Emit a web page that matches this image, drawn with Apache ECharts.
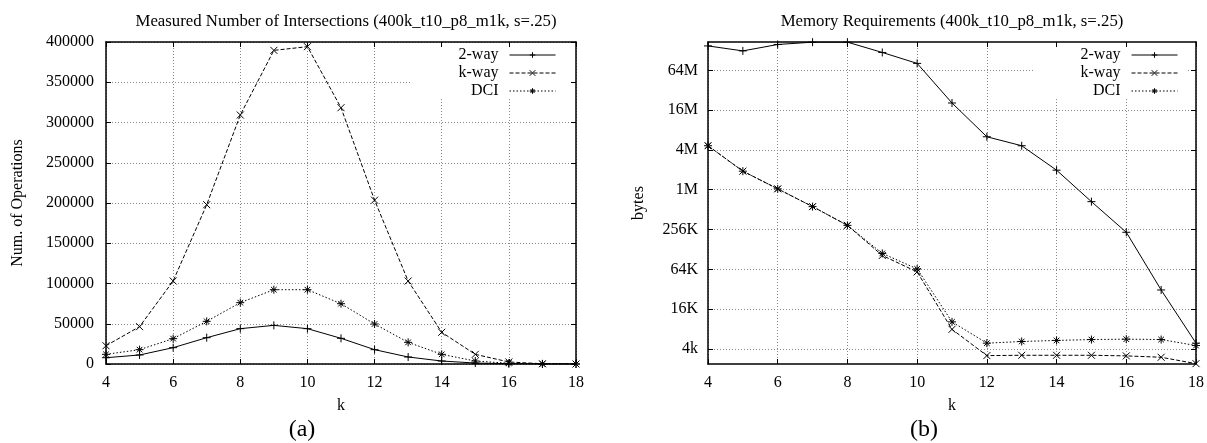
<!DOCTYPE html>
<html>
<head>
<meta charset="utf-8">
<script src="https://cdn.jsdelivr.net/npm/echarts@6/dist/echarts.min.js"></script>
<style>
html,body{margin:0;padding:0;background:#fff;}
#chart{width:1207px;height:443px;}
</style>
</head>
<body>
<div id="chart"></div>
<script>
// ---- data ----
var kValues = [4, 5, 6, 7, 8, 9, 10, 11, 12, 13, 14, 15, 16, 17, 18];
var seriesNames = ['2-way', 'k-way', 'DCI'];

// (a) Measured number of intersections
var twoWayOps = [7800, 11200, 20300, 32700, 43900, 48000, 43900, 31900, 17800, 8700, 3700, 1200, 400, 100, 0];
var kWayOps   = [22700, 46400, 103100, 197900, 309300, 389600, 394200, 318400, 203500, 103100, 39400, 12000, 2500, 300, 0];
var dciOps    = [12000, 17800, 31500, 53000, 76200, 92300, 92300, 74900, 49700, 26900, 12000, 3700, 900, 100, 0];

// (b) Memory requirements (bytes)
var twoWayMem = [157e6, 132e6, 165e6, 179e6, 179e6, 125e6, 85.4e6, 21.5e6, 6.63e6, 4.85e6, 2.07e6, 692e3, 238e3, 31.9e3, 5.0e3];
var kWayMem   = [4.85e6, 2.0e6, 1.08e6, 582e3, 303e3, 106e3, 59.9e3, 8.1e3, 3.24e3, 3.28e3, 3.28e3, 3.28e3, 3.21e3, 3.06e3, 2.45e3];
var dciMem    = [4.85e6, 2.0e6, 1.08e6, 582e3, 303e3, 114e3, 66.5e3, 10.5e3, 5.0e3, 5.3e3, 5.5e3, 5.67e3, 5.75e3, 5.67e3, 4.6e3];

var memTickValues = [4096, 16384, 65536, 262144, 1048576, 4194304, 16777216, 67108864];
var memTickLabels = ['4k', '16K', '64K', '256K', '1M', '4M', '16M', '64M'];

// ---- chart ----
var FONT = '"Liberation Serif", "Times New Roman", serif';
var chart = echarts.init(document.getElementById('chart'), null, {renderer: 'canvas'});

function pairs(ys) { return kValues.map(function (k, i) { return [k, ys[i]]; }); }

var SYM_PLUS = 'path://M0,-5L0,5M-5,0L5,0';
var SYM_X = 'path://M-4,-4L4,4M-4,4L4,-4';
var SYM_STAR = 'path://M0,-5L0,5M-5,0L5,0M-3.5,-3.5L3.5,3.5M-3.5,3.5L3.5,-3.5';
var symbols = [SYM_PLUS, SYM_X, SYM_STAR];
var symSizes = [8, 7, 8];
var dashes = ['solid', [4, 2], [1.5, 2]];

function mkSeries(name, idx, data, xi, yi) {
  return {
    name: name, type: 'line', xAxisIndex: xi, yAxisIndex: yi,
    data: pairs(data), symbol: symbols[idx], symbolSize: symSizes[idx],
    showSymbol: true, animation: false, z: 3,
    lineStyle: {color: '#000', width: 1, type: dashes[idx]},
    itemStyle: {color: '#000', borderColor: '#000', borderWidth: 1}
  };
}

var gridLine = {show: true, lineStyle: {color: '#888', type: [1, 2], width: 1}};
var axisLine = {show: true, onZero: false, lineStyle: {color: '#000', width: 1.5}};
var tickIn = {show: true, inside: true, length: 5, lineStyle: {color: '#000', width: 1}};
var labelStyle = {color: '#000', fontFamily: FONT, fontSize: 16};

function legendFor(name, idx, right, top, iw) {
  return {
    data: [{name: name}], orient: 'vertical', right: right, top: top, align: 'right',
    padding: 0, itemWidth: iw, itemHeight: 7, itemGap: 0,
    itemStyle: {color: '#000', borderColor: '#000', borderWidth: 1},
    lineStyle: {color: '#000', width: 1, type: dashes[idx]},
    textStyle: {color: '#000', fontFamily: FONT, fontSize: 16, padding: [0, 6, 0, 0]},
    selectedMode: false, z: 10
  };
}

var memLabelOf = function (v) {
  var e = Math.round(Math.log(v) / Math.LN2);
  var i = (e - 12) / 2;
  return memTickLabels[i] || '';
};

var option = {
  backgroundColor: '#fff',
  animation: false,
  title: [
    {text: 'Measured Number of Intersections (400k_t10_p8_m1k, s=.25)', left: 341, top: 8, textAlign: 'center',
     textStyle: {color: '#000', fontFamily: FONT, fontSize: 16.8, fontWeight: 'normal'}},
    {text: 'Memory Requirements (400k_t10_p8_m1k, s=.25)', left: 947, top: 8, textAlign: 'center',
     textStyle: {color: '#000', fontFamily: FONT, fontSize: 16.8, fontWeight: 'normal'}}
  ],
  grid: [
    {left: 106, right: 631, top: 42, bottom: 79, containLabel: false},
    {left: 708, right: 8, top: 42, bottom: 79, containLabel: false}
  ],
  legend: [
    legendFor('2-way', 0, 651, 47, 46),
    legendFor('k-way', 1, 651, 65, 46),
    legendFor('DCI', 2, 651, 83, 46),
    legendFor('2-way', 0, 29, 47, 46),
    legendFor('k-way', 1, 29, 65, 46),
    legendFor('DCI', 2, 29, 83, 46)
  ],
  xAxis: [
    {type: 'value', gridIndex: 0, min: 4, max: 18, interval: 2, name: 'k', nameLocation: 'middle', nameGap: 34,
     nameTextStyle: labelStyle, axisLine: axisLine, axisTick: tickIn, splitLine: gridLine,
     axisLabel: Object.assign({margin: 11}, labelStyle)},
    {type: 'value', gridIndex: 0, position: 'top', min: 4, max: 18, interval: 2,
     axisLine: axisLine, axisTick: tickIn, splitLine: {show: false}, axisLabel: {show: false}},
    {type: 'value', gridIndex: 1, min: 4, max: 18, interval: 2, name: 'k', nameLocation: 'middle', nameGap: 34,
     nameTextStyle: labelStyle, axisLine: axisLine, axisTick: tickIn, splitLine: gridLine,
     axisLabel: Object.assign({margin: 11}, labelStyle)},
    {type: 'value', gridIndex: 1, position: 'top', min: 4, max: 18, interval: 2,
     axisLine: axisLine, axisTick: tickIn, splitLine: {show: false}, axisLabel: {show: false}}
  ],
  yAxis: [
    {type: 'value', gridIndex: 0, min: 0, max: 400000, interval: 50000,
     name: 'Num. of Operations', nameLocation: 'middle', nameGap: 80, nameTextStyle: labelStyle,
     axisLine: axisLine, axisTick: tickIn, splitLine: gridLine,
     axisLabel: Object.assign({margin: 12, formatter: function (v) { return String(v); }}, labelStyle)},
    {type: 'value', gridIndex: 0, position: 'right', min: 0, max: 400000, interval: 50000,
     axisLine: axisLine, axisTick: tickIn, splitLine: {show: false}, axisLabel: {show: false}},
    {type: 'log', logBase: 2, gridIndex: 1, min: 2420, max: 180e6,
     name: 'bytes', nameLocation: 'middle', nameGap: 61, nameTextStyle: labelStyle,
     axisLine: axisLine, axisTick: Object.assign({customValues: memTickValues}, tickIn), splitLine: gridLine,
     axisLabel: Object.assign({margin: 10, customValues: memTickValues, formatter: memLabelOf}, labelStyle)},
    {type: 'log', logBase: 2, gridIndex: 1, position: 'right', min: 2420, max: 180e6,
     axisLine: axisLine, axisTick: Object.assign({customValues: memTickValues}, tickIn),
     splitLine: {show: false}, axisLabel: {show: false, customValues: memTickValues}}
  ],
  graphic: [
    {type: 'rect', shape: {x: 410, y: 48, width: 160, height: 50}, style: {fill: '#fff'}, z: 5, silent: true},
    {type: 'rect', shape: {x: 1033, y: 48, width: 155, height: 50}, style: {fill: '#fff'}, z: 5, silent: true},
    {type: 'text', x: 302, y: 430, style: {text: '(a)', fill: '#000', font: '24px ' + FONT, textAlign: 'center', textVerticalAlign: 'middle'}},
    {type: 'text', x: 924, y: 430, style: {text: '(b)', fill: '#000', font: '24px ' + FONT, textAlign: 'center', textVerticalAlign: 'middle'}}
  ],
  series: [
    mkSeries('2-way', 0, twoWayOps, 0, 0),
    mkSeries('k-way', 1, kWayOps, 0, 0),
    mkSeries('DCI', 2, dciOps, 0, 0),
    mkSeries('2-way', 0, twoWayMem, 2, 2),
    mkSeries('k-way', 1, kWayMem, 2, 2),
    mkSeries('DCI', 2, dciMem, 2, 2)
  ]
};
chart.setOption(option);
</script>
</body>
</html>
